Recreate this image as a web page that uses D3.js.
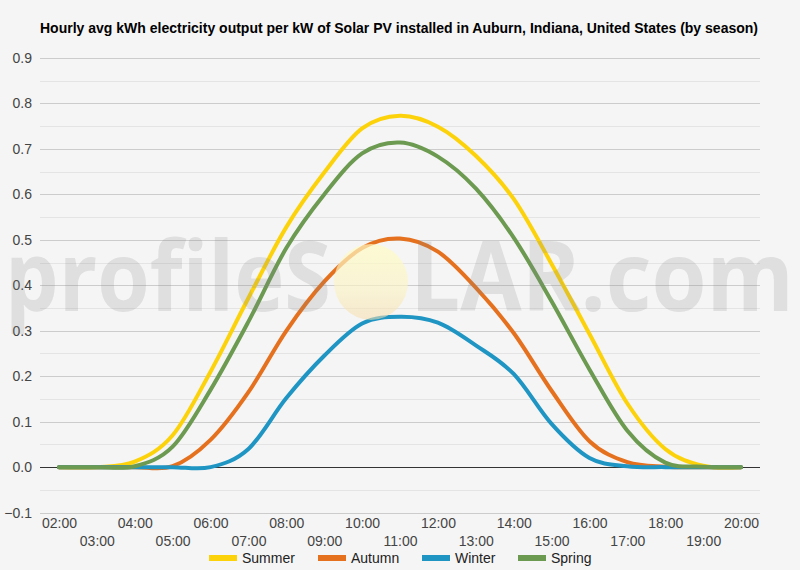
<!DOCTYPE html>
<html>
<head>
<meta charset="utf-8">
<script src="https://cdn.jsdelivr.net/npm/d3@7/dist/d3.min.js"></script>
<style>
  html, body { margin: 0; padding: 0; background: #f5f5f5; }
  svg { display: block; font-family: Arial, "Liberation Sans", sans-serif; }
</style>
</head>
<body>
<svg id="chart" width="800" height="570"></svg>
<script>
const hours = ["02:00","03:00","04:00","05:00","06:00","07:00","08:00","09:00","10:00","11:00",
               "12:00","13:00","14:00","15:00","16:00","17:00","18:00","19:00","20:00"];
const summer = [0,0,0.012,0.07,0.21,0.372,0.528,0.648,0.745,0.773,0.749,0.685,0.59,0.447,0.293,0.14,0.04,0.003,0];
const autumn = [0,0,0,0.002,0.06,0.165,0.3,0.408,0.482,0.503,0.474,0.395,0.295,0.168,0.057,0.011,0.001,0,0];
const winter = [0,0,0,0,0,0.04,0.152,0.245,0.316,0.331,0.318,0.268,0.205,0.095,0.02,0.002,0,0,0];
const spring = [0,0,0.002,0.045,0.17,0.32,0.482,0.6,0.69,0.714,0.683,0.613,0.505,0.365,0.215,0.08,0.01,0.001,0];
const seriesNames = ["Summer","Autumn","Winter","Spring"];
const seriesColors = ["#fcd20b","#e5711e","#1f95c4","#6b9a50"];
const yTicks = [-0.1,0,0.1,0.2,0.3,0.4,0.5,0.6,0.7,0.8,0.9];
const yMinor = [-0.05,0.05,0.15,0.25,0.35,0.45,0.55,0.65,0.75,0.85];
const title = "Hourly avg kWh electricity output per kW of Solar PV installed in Auburn, Indiana, United States (by season)";

const series = [summer, autumn, winter, spring];
const svg = d3.select("#chart");
const L = 40, R = 760, T = 58, B = 512.6;

svg.append("rect").attr("width",800).attr("height",570).attr("fill","#f5f5f5");

const x = d3.scalePoint().domain(hours).range([L, R]).padding(0.5);
const y = d3.scaleLinear().domain([-0.1, 0.9]).range([B, T]);

// title
svg.append("text").attr("x", 40).attr("y", 33)
  .attr("font-size", 14).attr("font-weight","bold").attr("fill","#000")
  .attr("textLength", 718).attr("lengthAdjust","spacingAndGlyphs").text(title);

// minor grid
svg.append("g").selectAll("line").data(yMinor).join("line")
  .attr("x1", L).attr("x2", R).attr("y1", d => Math.round(y(d))+0.5).attr("y2", d => Math.round(y(d))+0.5)
  .attr("stroke","#e4e4e4").attr("stroke-width",1);
// major grid
svg.append("g").selectAll("line").data(yTicks.filter(d => d !== 0)).join("line")
  .attr("x1", L).attr("x2", R).attr("y1", d => Math.round(y(d))+0.5).attr("y2", d => Math.round(y(d))+0.5)
  .attr("stroke","#cccccc").attr("stroke-width",1);

// y axis labels
const yAxis = d3.axisLeft(y).tickValues(yTicks).tickSize(0).tickPadding(0).tickFormat(d3.format(".1f"));
const gy = svg.append("g").attr("transform", `translate(${L-8},0)`).call(yAxis);
gy.select(".domain").remove();
gy.selectAll("text").attr("font-size", 14).attr("fill","#444").attr("font-family","Arial, 'Liberation Sans', sans-serif");

// x axis labels (staggered)
const xAxis = d3.axisBottom(x).tickSize(0).tickPadding(0);
const gx = svg.append("g").call(xAxis);
gx.select(".domain").remove();
gx.selectAll(".tick text")
  .attr("font-size", 14).attr("fill","#444").attr("font-family","Arial, 'Liberation Sans', sans-serif")
  .attr("dy", null)
  .attr("y", (d,i) => i % 2 === 0 ? 528 : 546);

// zero line
svg.append("line").attr("x1", L).attr("x2", R)
  .attr("y1", Math.round(y(0))+0.5).attr("y2", Math.round(y(0))+0.5)
  .attr("stroke","#333").attr("stroke-width",1);

// lines
const line = d3.line().x((d,i) => x(hours[i])).y(d => y(d)).curve(d3.curveCardinal.tension(0));
svg.append("g").selectAll("path").data(series).join("path")
  .attr("d", d => line(d))
  .attr("fill","none")
  .attr("stroke", (d,i) => seriesColors[i])
  .attr("stroke-width", 4)
  .attr("stroke-linejoin","round").attr("stroke-linecap","round");

// watermark
const defs = svg.append("defs");
const grad = defs.append("linearGradient").attr("id","sun").attr("x1",0).attr("y1",0).attr("x2",0).attr("y2",1);
grad.append("stop").attr("offset","0%").attr("stop-color","#fffcc4").attr("stop-opacity",0.7);
grad.append("stop").attr("offset","60%").attr("stop-color","#fbf3c4").attr("stop-opacity",0.65);
grad.append("stop").attr("offset","100%").attr("stop-color","#f6dcaa").attr("stop-opacity",0.55);
const wm = svg.append("g").attr("pointer-events","none");
wm.append("ellipse").attr("cx", 371).attr("cy", 282).attr("rx", 37).attr("ry", 38).attr("fill","url(#sun)");
wm.append("text").attr("x", 5).attr("y", 311).attr("font-family","'Open Sans', sans-serif")
  .attr("font-weight","bold").attr("font-size", 96).attr("fill","#888").attr("fill-opacity",0.2)
  .attr("textLength", 326).attr("lengthAdjust","spacingAndGlyphs").text("profileS");
wm.append("text").attr("x", 410).attr("y", 311).attr("font-family","'Open Sans', sans-serif")
  .attr("font-weight","bold").attr("font-size", 96).attr("fill","#888").attr("fill-opacity",0.2)
  .attr("textLength", 384).attr("lengthAdjust","spacingAndGlyphs").text("LAR.com");

// legend
const legX = [209, 318, 422, 518];
const lg = svg.append("g").selectAll("g").data(seriesNames).join("g")
  .attr("transform", (d,i) => `translate(${legX[i]},558)`);
lg.append("rect").attr("x",0).attr("y",-3).attr("width",28).attr("height",6)
  .attr("fill", (d,i) => seriesColors[i]);
lg.append("text").attr("x", 33).attr("y", 5).attr("font-size",14).attr("fill","#222").text(d => d);
</script>
</body>
</html>
